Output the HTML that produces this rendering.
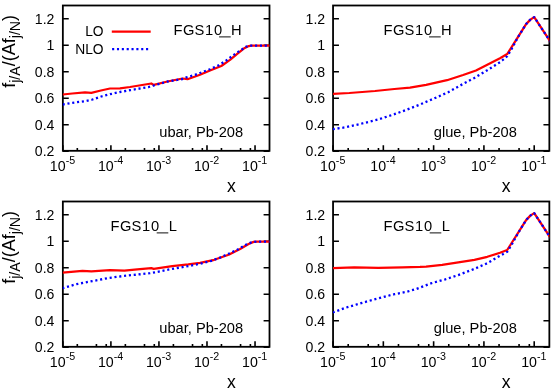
<!DOCTYPE html><html><head><meta charset="utf-8"><style>html,body{margin:0;padding:0;background:#fff}svg{display:block;will-change:transform}text{font-family:"Liberation Sans",sans-serif;fill:#000}</style></head><body>
<svg width="560" height="391" viewBox="0 0 560 391">
<rect width="560" height="391" fill="#fff"/>
<rect x="62.85" y="5.5" width="206.65" height="145.30" fill="none" stroke="#000" stroke-width="1.8"/>
<text x="54.45" y="156.25" font-size="14.1" text-anchor="end">0.2</text>
<text x="54.45" y="129.75" font-size="14.1" text-anchor="end">0.4</text>
<text x="54.45" y="103.25" font-size="14.1" text-anchor="end">0.6</text>
<text x="54.45" y="76.75" font-size="14.1" text-anchor="end">0.8</text>
<text x="54.45" y="50.25" font-size="14.1" text-anchor="end">1</text>
<text x="54.45" y="23.75" font-size="14.1" text-anchor="end">1.2</text>
<text x="49.85" y="171.00" font-size="14.2">10<tspan font-size="10.7" dy="-6.9">-5</tspan></text>
<text x="97.90" y="171.00" font-size="14.2">10<tspan font-size="10.7" dy="-6.9">-4</tspan></text>
<text x="145.94" y="171.00" font-size="14.2">10<tspan font-size="10.7" dy="-6.9">-3</tspan></text>
<text x="193.99" y="171.00" font-size="14.2">10<tspan font-size="10.7" dy="-6.9">-2</tspan></text>
<text x="242.04" y="171.00" font-size="14.2">10<tspan font-size="10.7" dy="-6.9">-1</tspan></text>
<path d="M62.85,151.25h5.9M269.5,151.25h-5.9 M62.85,124.75h5.9M269.5,124.75h-5.9 M62.85,98.25h5.9M269.5,98.25h-5.9 M62.85,71.75h5.9M269.5,71.75h-5.9 M62.85,45.25h5.9M269.5,45.25h-5.9 M62.85,18.75h5.9M269.5,18.75h-5.9 M62.85,150.8v-5.6 M77.31,150.8v-2.7 M96.43,150.8v-2.7 M106.24,150.8v-2.7 M110.90,150.8v-5.6 M125.36,150.8v-2.7 M144.48,150.8v-2.7 M154.29,150.8v-2.7 M158.94,150.8v-5.6 M173.41,150.8v-2.7 M192.53,150.8v-2.7 M202.33,150.8v-2.7 M206.99,150.8v-5.6 M221.45,150.8v-2.7 M240.57,150.8v-2.7 M250.38,150.8v-2.7 M255.04,150.8v-5.6" stroke="#000" stroke-width="1.6" fill="none"/>
<clipPath id="cpTL"><rect x="62.85" y="5.5" width="206.65" height="145.30"/></clipPath><g clip-path="url(#cpTL)">
<polyline points="62.9,94.4 62.8,94.5 72.3,93.5 85.0,92.4 91.3,92.8 100.9,90.5 110.0,88.5 120.0,88.4 130.0,87.0 151.3,83.5 153.8,84.9 167.5,81.5 182.5,78.5 187.5,79.2 200.0,74.7 210.0,70.5 221.3,66.0 230.0,59.9 237.5,53.6 243.8,48.6 248.8,46.1 251.2,45.7 269.0,45.7 271.5,45.7" fill="none" stroke="#ff0000" stroke-width="2.25" stroke-linejoin="round"/>
<polyline points="62.9,104.4 62.8,104.5 72.5,102.8 86.3,101.0 92.5,99.5 101.3,96.5 110.0,94.2 120.0,92.0 130.0,90.2 148.8,87.0 153.8,85.5 167.5,81.5 182.5,79.0 186.3,77.4 195.0,74.9 200.0,73.0 210.0,69.2 218.8,65.2 226.2,60.5 233.8,54.9 241.2,49.9 246.2,46.7 250.0,45.7 269.0,45.7 271.5,45.7" fill="none" stroke="#0000ff" stroke-width="2.3" stroke-dasharray="2.1,2.75" stroke-linejoin="round"/>
</g>
<rect x="333.05" y="5.5" width="216.30" height="145.30" fill="none" stroke="#000" stroke-width="1.8"/>
<text x="325.20" y="156.25" font-size="14.1" text-anchor="end">0.2</text>
<text x="325.20" y="129.75" font-size="14.1" text-anchor="end">0.4</text>
<text x="325.20" y="103.25" font-size="14.1" text-anchor="end">0.6</text>
<text x="325.20" y="76.75" font-size="14.1" text-anchor="end">0.8</text>
<text x="325.20" y="50.25" font-size="14.1" text-anchor="end">1</text>
<text x="325.20" y="23.75" font-size="14.1" text-anchor="end">1.2</text>
<text x="320.05" y="171.00" font-size="14.2">10<tspan font-size="10.7" dy="-6.9">-5</tspan></text>
<text x="370.34" y="171.00" font-size="14.2">10<tspan font-size="10.7" dy="-6.9">-4</tspan></text>
<text x="420.63" y="171.00" font-size="14.2">10<tspan font-size="10.7" dy="-6.9">-3</tspan></text>
<text x="470.92" y="171.00" font-size="14.2">10<tspan font-size="10.7" dy="-6.9">-2</tspan></text>
<text x="521.21" y="171.00" font-size="14.2">10<tspan font-size="10.7" dy="-6.9">-1</tspan></text>
<path d="M333.05,151.25h5.9M549.35,151.25h-5.9 M333.05,124.75h5.9M549.35,124.75h-5.9 M333.05,98.25h5.9M549.35,98.25h-5.9 M333.05,71.75h5.9M549.35,71.75h-5.9 M333.05,45.25h5.9M549.35,45.25h-5.9 M333.05,18.75h5.9M549.35,18.75h-5.9 M333.05,150.8v-5.6 M348.19,150.8v-2.7 M368.20,150.8v-2.7 M378.47,150.8v-2.7 M383.34,150.8v-5.6 M398.48,150.8v-2.7 M418.49,150.8v-2.7 M428.76,150.8v-2.7 M433.63,150.8v-5.6 M448.77,150.8v-2.7 M468.78,150.8v-2.7 M479.05,150.8v-2.7 M483.92,150.8v-5.6 M499.06,150.8v-2.7 M519.07,150.8v-2.7 M529.34,150.8v-2.7 M534.21,150.8v-5.6" stroke="#000" stroke-width="1.6" fill="none"/>
<clipPath id="cpTR"><rect x="333.05" y="5.5" width="216.30" height="145.30"/></clipPath><g clip-path="url(#cpTR)">
<polyline points="333.1,93.7 332.9,93.8 349.3,93.0 375.0,91.0 394.4,89.0 410.0,87.7 426.1,84.8 447.0,80.2 463.1,75.0 476.0,70.5 487.3,64.7 493.6,61.4 500.0,58.2 507.2,54.1 526.1,24.1 530.4,19.6 534.2,17.1 549.4,40.2 551.4,43.2" fill="none" stroke="#ff0000" stroke-width="2.25" stroke-linejoin="round"/>
<polyline points="333.1,129.2 332.9,129.2 346.0,127.2 362.2,123.5 378.3,119.5 394.4,114.2 407.3,109.5 420.0,104.5 435.8,97.7 448.6,92.0 461.5,84.8 474.4,77.9 487.3,70.2 500.0,62.2 502.2,60.5 507.2,56.2 511.5,49.1 518.0,37.2 526.1,24.1 530.4,19.6 534.2,17.1 549.4,40.2 551.4,43.2" fill="none" stroke="#0000ff" stroke-width="2.3" stroke-dasharray="2.1,2.75" stroke-linejoin="round"/>
</g>
<rect x="62.85" y="201.5" width="206.65" height="145.30" fill="none" stroke="#000" stroke-width="1.8"/>
<text x="54.45" y="352.25" font-size="14.1" text-anchor="end">0.2</text>
<text x="54.45" y="325.75" font-size="14.1" text-anchor="end">0.4</text>
<text x="54.45" y="299.25" font-size="14.1" text-anchor="end">0.6</text>
<text x="54.45" y="272.75" font-size="14.1" text-anchor="end">0.8</text>
<text x="54.45" y="246.25" font-size="14.1" text-anchor="end">1</text>
<text x="54.45" y="219.75" font-size="14.1" text-anchor="end">1.2</text>
<text x="49.85" y="367.00" font-size="14.2">10<tspan font-size="10.7" dy="-6.9">-5</tspan></text>
<text x="97.90" y="367.00" font-size="14.2">10<tspan font-size="10.7" dy="-6.9">-4</tspan></text>
<text x="145.94" y="367.00" font-size="14.2">10<tspan font-size="10.7" dy="-6.9">-3</tspan></text>
<text x="193.99" y="367.00" font-size="14.2">10<tspan font-size="10.7" dy="-6.9">-2</tspan></text>
<text x="242.04" y="367.00" font-size="14.2">10<tspan font-size="10.7" dy="-6.9">-1</tspan></text>
<path d="M62.85,347.25h5.9M269.5,347.25h-5.9 M62.85,320.75h5.9M269.5,320.75h-5.9 M62.85,294.25h5.9M269.5,294.25h-5.9 M62.85,267.75h5.9M269.5,267.75h-5.9 M62.85,241.25h5.9M269.5,241.25h-5.9 M62.85,214.75h5.9M269.5,214.75h-5.9 M62.85,346.8v-5.6 M77.31,346.8v-2.7 M96.43,346.8v-2.7 M106.24,346.8v-2.7 M110.90,346.8v-5.6 M125.36,346.8v-2.7 M144.48,346.8v-2.7 M154.29,346.8v-2.7 M158.94,346.8v-5.6 M173.41,346.8v-2.7 M192.53,346.8v-2.7 M202.33,346.8v-2.7 M206.99,346.8v-5.6 M221.45,346.8v-2.7 M240.57,346.8v-2.7 M250.38,346.8v-2.7 M255.04,346.8v-5.6" stroke="#000" stroke-width="1.6" fill="none"/>
<clipPath id="cpBL"><rect x="62.85" y="201.5" width="206.65" height="145.30"/></clipPath><g clip-path="url(#cpBL)">
<polyline points="62.9,272.6 62.6,272.6 82.5,270.8 91.4,271.3 110.0,270.1 124.4,270.6 137.3,269.4 151.3,268.1 153.7,268.9 172.2,266.1 188.3,264.4 200.0,262.8 214.3,259.8 228.6,254.8 240.1,249.0 248.6,244.0 253.6,241.9 257.2,241.6 269.0,241.6 271.5,241.6" fill="none" stroke="#ff0000" stroke-width="2.25" stroke-linejoin="round"/>
<polyline points="62.9,288.2 62.6,288.2 76.1,284.2 92.2,281.1 108.3,278.1 124.4,275.8 137.3,274.6 150.0,273.2 156.1,272.1 172.2,268.9 188.3,266.1 200.0,263.8 211.4,260.9 220.0,257.6 228.6,253.8 237.2,249.8 245.8,244.8 251.5,242.3 257.2,241.6 269.0,241.6 271.5,241.6" fill="none" stroke="#0000ff" stroke-width="2.3" stroke-dasharray="2.1,2.75" stroke-linejoin="round"/>
</g>
<rect x="333.05" y="201.5" width="216.30" height="145.30" fill="none" stroke="#000" stroke-width="1.8"/>
<text x="325.20" y="352.25" font-size="14.1" text-anchor="end">0.2</text>
<text x="325.20" y="325.75" font-size="14.1" text-anchor="end">0.4</text>
<text x="325.20" y="299.25" font-size="14.1" text-anchor="end">0.6</text>
<text x="325.20" y="272.75" font-size="14.1" text-anchor="end">0.8</text>
<text x="325.20" y="246.25" font-size="14.1" text-anchor="end">1</text>
<text x="325.20" y="219.75" font-size="14.1" text-anchor="end">1.2</text>
<text x="320.05" y="367.00" font-size="14.2">10<tspan font-size="10.7" dy="-6.9">-5</tspan></text>
<text x="370.34" y="367.00" font-size="14.2">10<tspan font-size="10.7" dy="-6.9">-4</tspan></text>
<text x="420.63" y="367.00" font-size="14.2">10<tspan font-size="10.7" dy="-6.9">-3</tspan></text>
<text x="470.92" y="367.00" font-size="14.2">10<tspan font-size="10.7" dy="-6.9">-2</tspan></text>
<text x="521.21" y="367.00" font-size="14.2">10<tspan font-size="10.7" dy="-6.9">-1</tspan></text>
<path d="M333.05,347.25h5.9M549.35,347.25h-5.9 M333.05,320.75h5.9M549.35,320.75h-5.9 M333.05,294.25h5.9M549.35,294.25h-5.9 M333.05,267.75h5.9M549.35,267.75h-5.9 M333.05,241.25h5.9M549.35,241.25h-5.9 M333.05,214.75h5.9M549.35,214.75h-5.9 M333.05,346.8v-5.6 M348.19,346.8v-2.7 M368.20,346.8v-2.7 M378.47,346.8v-2.7 M383.34,346.8v-5.6 M398.48,346.8v-2.7 M418.49,346.8v-2.7 M428.76,346.8v-2.7 M433.63,346.8v-5.6 M448.77,346.8v-2.7 M468.78,346.8v-2.7 M479.05,346.8v-2.7 M483.92,346.8v-5.6 M499.06,346.8v-2.7 M519.07,346.8v-2.7 M529.34,346.8v-2.7 M534.21,346.8v-5.6" stroke="#000" stroke-width="1.6" fill="none"/>
<clipPath id="cpBR"><rect x="333.05" y="201.5" width="216.30" height="145.30"/></clipPath><g clip-path="url(#cpBR)">
<polyline points="333.1,268.1 332.9,268.1 354.2,267.3 378.3,267.8 402.5,267.3 420.0,266.9 426.1,266.6 442.2,264.9 458.3,262.4 474.4,259.8 487.3,256.8 500.0,252.8 507.2,250.0 526.1,220.1 530.4,215.6 534.2,213.1 549.4,236.2 551.4,239.2" fill="none" stroke="#ff0000" stroke-width="2.25" stroke-linejoin="round"/>
<polyline points="333.1,312.4 332.9,312.4 346.1,307.6 362.2,302.8 378.3,298.4 394.4,294.2 407.3,291.6 416.4,288.9 430.9,283.4 445.4,279.3 458.3,275.1 474.4,268.9 487.3,263.2 498.6,256.6 507.2,251.8 511.5,245.0 518.0,233.2 526.1,220.1 530.4,215.6 534.2,213.1 549.4,236.2 551.4,239.2" fill="none" stroke="#0000ff" stroke-width="2.3" stroke-dasharray="2.1,2.75" stroke-linejoin="round"/>
</g>
<text x="173.50 182.90 194.50 205.10 213.90" y="35.2" font-size="14.7">FGS10</text>
<path d="M219.10,36.90h11.6" stroke="#000" stroke-width="0.95"/>
<text x="231.0" y="35.2" font-size="14.7" text-anchor="start" >H</text>
<text x="383.50 392.90 404.50 415.10 423.90" y="35.2" font-size="14.7">FGS10</text>
<path d="M429.10,36.90h11.6" stroke="#000" stroke-width="0.95"/>
<text x="441.0" y="35.2" font-size="14.7" text-anchor="start" >H</text>
<text x="110.50 119.90 131.50 142.10 150.90" y="231.2" font-size="14.7">FGS10</text>
<path d="M156.70,232.90h11.6" stroke="#000" stroke-width="0.95"/>
<text x="168.8" y="231.2" font-size="14.7" text-anchor="start" >L</text>
<text x="383.50 392.90 404.50 415.10 423.90" y="231.2" font-size="14.7">FGS10</text>
<path d="M429.70,232.90h11.6" stroke="#000" stroke-width="0.95"/>
<text x="441.8" y="231.2" font-size="14.7" text-anchor="start" >L</text>
<text x="159.3" y="136.7" font-size="14.65" text-anchor="start" >ubar, Pb-208</text>
<text x="433.8" y="136.7" font-size="14.65" text-anchor="start" >glue, Pb-208</text>
<text x="159.3" y="332.7" font-size="14.65" text-anchor="start" >ubar, Pb-208</text>
<text x="433.8" y="332.7" font-size="14.65" text-anchor="start" >glue, Pb-208</text>
<text x="103.6" y="35.7" font-size="13.8" text-anchor="end" >LO</text>
<text x="103.6" y="53.5" font-size="13.8" text-anchor="end" >NLO</text>
<path d="M111.8,31.7h38.9" stroke="#ff0000" stroke-width="2.25"/>
<path d="M112.1,49.2h38" stroke="#0000ff" stroke-width="2.3" stroke-dasharray="2.1,2.75"/>
<text x="227.05" y="191.5" font-size="17.6" text-anchor="start" >x</text>
<text x="501.85" y="191.5" font-size="17.6" text-anchor="start" >x</text>
<text x="227.05" y="387.5" font-size="17.6" text-anchor="start" >x</text>
<text x="501.85" y="387.5" font-size="17.6" text-anchor="start" >x</text>
<text transform="translate(15.3,51.4) rotate(-90)" font-size="18" text-anchor="middle">f<tspan font-size="14.2" dy="4.7">j/A</tspan><tspan dy="-4.7">/(Af</tspan><tspan font-size="14.2" dy="4.7">j/N</tspan><tspan dy="-4.7">)</tspan></text>
<text transform="translate(15.3,247.4) rotate(-90)" font-size="18" text-anchor="middle">f<tspan font-size="14.2" dy="4.7">j/A</tspan><tspan dy="-4.7">/(Af</tspan><tspan font-size="14.2" dy="4.7">j/N</tspan><tspan dy="-4.7">)</tspan></text>
</svg></body></html>
